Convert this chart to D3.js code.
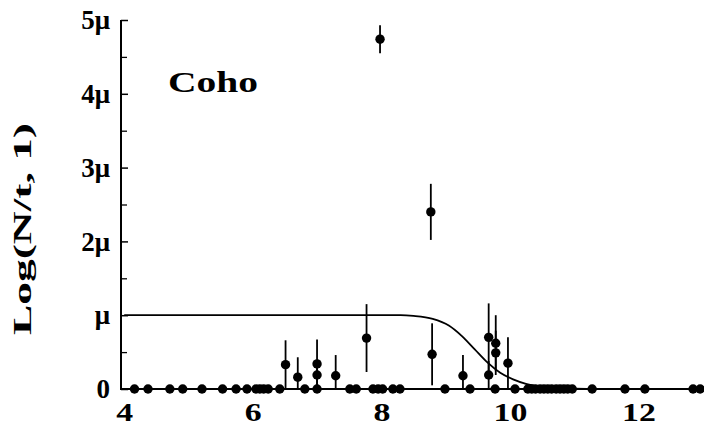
<!DOCTYPE html>
<html>
<head>
<meta charset="utf-8">
<script src="https://cdn.jsdelivr.net/npm/d3@7"></script>
<style>
  body { margin: 0; background: #fff; }
  svg { display: block; }
  text { font-family: "Liberation Serif", "Times New Roman", serif; font-weight: bold; fill: #000; }
</style>
</head>
<body>
<svg id="chart" width="704" height="433"></svg>
<script>
// Measurements lying on the zero line (value 0, no visible error bar)
const baselineX = [4.16, 4.37, 4.71, 4.91, 5.21, 5.53, 5.74, 5.91, 6.05, 6.11, 6.17, 6.24,
  6.42, 6.81, 7.00, 7.51, 7.61, 7.87, 7.95, 8.02, 8.18, 8.29, 8.99, 9.38, 9.77, 10.08,
  10.28, 10.34, 10.40, 10.47, 10.53, 10.59, 10.65, 10.72, 10.78, 10.84, 10.90, 10.97,
  11.28, 11.79, 12.10, 12.85, 12.96];

// Measurements above zero, in units of mu, with their errors
const pointX   = [6.51, 6.70, 7.00, 7.00, 7.29, 7.77, 7.98, 8.77, 8.79, 9.27, 9.67, 9.78, 9.78, 9.67, 9.97];
const pointY   = [0.33, 0.16, 0.34, 0.19, 0.18, 0.69, 4.74, 2.40, 0.47, 0.18, 0.70, 0.62, 0.49, 0.19, 0.35];
const pointErr = [0.33, 0.27, 0.33, 0.15, 0.28, 0.46, 0.19, 0.38, 0.42, 0.28, 0.46, 0.38, 0.30, 0.19, 0.35];

// Step-like reference curve, read as sample points
const curveX = [4.0, 8.3, 8.5, 8.8, 9.05, 9.25, 9.45, 9.65, 9.85, 10.05, 10.25, 10.5, 10.8, 11.2, 13.02];
const curveY = [1.0, 1.0, 0.99, 0.95, 0.86, 0.72, 0.54, 0.36, 0.22, 0.13, 0.07, 0.03, 0.01, 0.0, 0.0];

// Axis ticks
const xTicks = [4, 6, 8, 10, 12];
const yTicks = [0, 1, 2, 3, 4, 5];
const yTickLabels = ["0", "\u03bc", "2\u03bc", "3\u03bc", "4\u03bc", "5\u03bc"];
const yMinorTicks = [0.5, 1.5, 2.5, 3.5, 4.5];

const svg = d3.select("#chart");

const x = d3.scaleLinear().domain([3.95, 13.02]).range([121, 704]);
const y = d3.scaleLinear().domain([0, 5]).range([389, 20]);

// Axis frame as solid bars
const frame = svg.append("g").attr("class", "frame");
frame.append("rect")
  .attr("x", x(3.95) - 1).attr("y", y(0) - 1)
  .attr("width", x(13.02) - x(3.95) + 1).attr("height", 2)
  .attr("fill", "#000");
frame.append("rect")
  .attr("x", x(3.95) - 1).attr("y", y(5))
  .attr("width", 2).attr("height", y(0) - y(5) + 1)
  .attr("fill", "#000");

// Reference curve
const curveData = curveX.map((v, i) => [v, curveY[i]]);
svg.append("path")
  .datum(curveData)
  .attr("fill", "none")
  .attr("stroke", "#000")
  .attr("stroke-width", 1.8)
  .attr("d", d3.line().x(d => x(d[0])).y(d => y(d[1])).curve(d3.curveMonotoneX));

// x axis labels (no tick marks)
const xAxis = svg.append("g")
  .attr("transform", `translate(0,${y(0)})`)
  .call(d3.axisBottom(x).tickValues(xTicks).tickSize(0).tickPadding(14).tickFormat(d3.format("d")));
xAxis.select(".domain").remove();
xAxis.selectAll("text")
  .attr("font-size", 26)
  .style("font-family", "'Liberation Serif', serif")
  .style("font-weight", "bold")
  .each(function () {
    const len = this.getComputedTextLength();
    d3.select(this).attr("textLength", len * 1.3).attr("lengthAdjust", "spacingAndGlyphs");
  });

// y axis ticks pointing inward
const yAxis = svg.append("g")
  .attr("transform", `translate(${x(3.95)},0)`)
  .call(d3.axisLeft(y).tickValues(yTicks).tickSizeInner(-7).tickSizeOuter(0).tickPadding(11)
    .tickFormat((d, i) => yTickLabels[i]));
yAxis.select(".domain").remove();
yAxis.selectAll(".tick line").attr("stroke-width", 1.5);
yAxis.selectAll("text")
  .attr("font-size", 27)
  .style("font-family", "'Liberation Serif', serif")
  .style("font-weight", "bold");

const yMinor = svg.append("g")
  .attr("transform", `translate(${x(3.95)},0)`)
  .call(d3.axisLeft(y).tickValues(yMinorTicks).tickSizeInner(-6).tickSizeOuter(0).tickFormat(""));
yMinor.select(".domain").remove();
yMinor.selectAll(".tick line").attr("stroke-width", 1.3);

// Error bars
const pts = pointX.map((v, i) => ({ x: v, y: pointY[i], e: pointErr[i] }));
svg.append("g").attr("class", "errorbars").selectAll("line")
  .data(pts)
  .join("line")
  .attr("x1", d => x(d.x)).attr("x2", d => x(d.x))
  .attr("y1", d => y(d.y + d.e)).attr("y2", d => y(Math.max(0, d.y - d.e)))
  .attr("stroke", "#000")
  .attr("stroke-width", 1.8);

// Markers
svg.append("g").attr("class", "zero-points").selectAll("circle")
  .data(baselineX)
  .join("circle")
  .attr("cx", d => x(d)).attr("cy", y(0)).attr("r", 4.7)
  .attr("fill", "#000");

svg.append("g").attr("class", "points").selectAll("circle")
  .data(pts)
  .join("circle")
  .attr("cx", d => x(d.x)).attr("cy", d => y(d.y)).attr("r", 4.7)
  .attr("fill", "#000");

// Species label
svg.append("text")
  .attr("x", 168).attr("y", 92)
  .attr("font-size", 29)
  .attr("textLength", 90).attr("lengthAdjust", "spacingAndGlyphs")
  .text("Coho");

// y axis title
svg.append("text")
  .attr("transform", "translate(31,229) rotate(-90)")
  .attr("text-anchor", "middle")
  .attr("font-size", 26)
  .attr("textLength", 212).attr("lengthAdjust", "spacingAndGlyphs")
  .text("Log(N/t, 1)");
</script>
</body>
</html>
